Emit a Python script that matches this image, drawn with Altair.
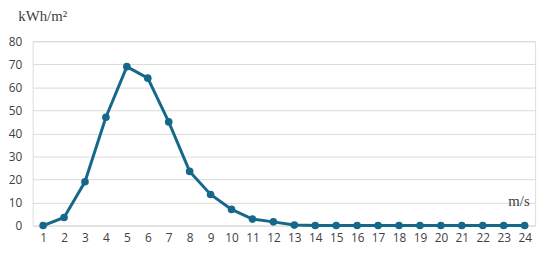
import altair as alt
import pandas as pd

speeds = list(range(1, 25))
energy = [0, 3.5, 19, 47, 69, 64, 45, 23.5, 13.5, 7, 2.8, 1.6, 0.2,
          0, 0, 0, 0, 0, 0, 0, 0, 0, 0, 0]
y_ticks = [0, 10, 20, 30, 40, 50, 60, 70, 80]

df = pd.DataFrame({"speed": speeds, "energy": energy})
color = "#156889"

base = alt.Chart(df).encode(
    x=alt.X("speed:O", sort=speeds,
            scale=alt.Scale(paddingInner=1, paddingOuter=0.5, padding=0.5),
            axis=alt.Axis(title="m/s", labelAngle=0, domain=False, ticks=False,
                          grid=False,
                          labelPadding=7, labelFont="Open Sans", labelFontSize=12,
                          labelColor="#404040",
                          titleFont="Liberation Serif", titleFontSize=15,
                          titleFontWeight="normal", titleColor="#404040",
                          titleAnchor="end", titleAlign="right",
                          titleX=504, titleY=-20, titleBaseline="alphabetic")),
    y=alt.Y("energy:Q", scale=alt.Scale(domain=[0, 80], nice=False),
            axis=alt.Axis(values=y_ticks, title="kWh/m²", titleAngle=0,
                          domain=False, ticks=False, labelPadding=11,
                          labelFont="Open Sans", labelFontSize=12,
                          labelColor="#404040", gridColor="#d9d9d9",
                          titleFont="Liberation Serif", titleFontSize=15,
                          titleFontWeight="normal", titleColor="#404040",
                          titleAlign="left", titleX=-15, titleY=-21,
                          titleBaseline="alphabetic")),
)

line = base.mark_line(color=color, strokeWidth=3)
points = base.mark_circle(color=color, size=60, opacity=1)

chart = (line + points).properties(
    width=510, height=187,
    autosize=alt.AutoSizeParams(type="none"),
    padding={"left": 25, "top": 32, "right": 7, "bottom": 21},
).configure_view(stroke=None).configure(background="white")

chart.save("out.html", embed_options={"renderer": "svg", "actions": False})
